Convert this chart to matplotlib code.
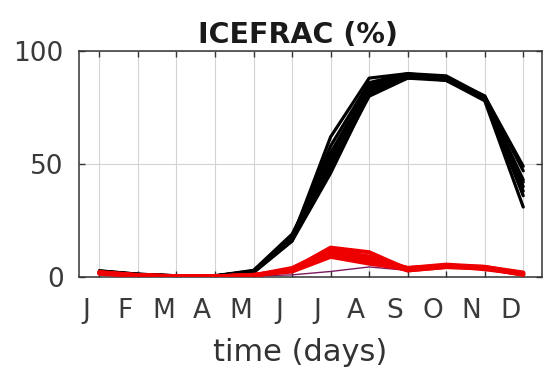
import matplotlib
matplotlib.use("Agg")
import matplotlib.pyplot as plt
from matplotlib.transforms import ScaledTranslation

months = list(range(1, 13))
month_labels = ["J", "F", "M", "A", "M", "J", "J", "A", "S", "O", "N", "D"]

# Ensemble members, one series per run (ice fraction, %)
black_runs = [
    [2.8, 1.3, 0.6, 0.6, 2.5, 17, 62, 88, 90, 88, 80, 49],
    [2.5, 1.2, 0.5, 0.5, 2.8, 18, 58, 86, 90, 89, 80, 47],
    [2.2, 1.0, 0.4, 0.5, 2.2, 16, 55, 84, 89, 88, 79, 43],
    [2.6, 1.1, 0.5, 0.6, 3.0, 19, 52, 82, 89, 87, 79, 40],
    [2.4, 1.2, 0.5, 0.4, 2.4, 17, 48, 80, 88, 88, 80, 38],
    [2.0, 0.9, 0.4, 0.5, 2.0, 16, 46, 81, 89, 88, 79, 36],
    [2.7, 1.3, 0.6, 0.5, 2.6, 18, 50, 83, 88, 87, 78, 31],
    [2.3, 1.1, 0.5, 0.5, 2.3, 17, 54, 85, 89, 88, 80, 42],
]
red_runs = [
    [2.0, 0.8, 0.3, 0.3, 0.7, 3.5, 13.0, 11.0, 3.5, 5.0, 4.5, 1.5],
    [1.8, 0.7, 0.3, 0.3, 0.8, 4.0, 12.0, 9.0, 4.0, 5.5, 4.5, 2.0],
    [2.2, 0.9, 0.4, 0.3, 1.0, 3.0, 11.0, 8.0, 3.0, 4.5, 4.0, 1.2],
    [1.5, 0.6, 0.2, 0.2, 0.6, 3.5, 10.0, 7.0, 4.0, 5.0, 3.5, 1.5],
    [2.0, 0.8, 0.3, 0.3, 0.9, 2.5, 9.0, 6.0, 3.5, 5.0, 4.0, 1.0],
    [1.7, 0.7, 0.3, 0.3, 0.7, 3.0, 11.5, 9.0, 3.0, 4.5, 4.0, 1.8],
]
thin_run = [1.5, 0.5, 0.2, 0.2, 0.5, 1.0, 2.5, 4.5, 3.0, 4.5, 3.5, 1.0]

plt.rcParams["font.family"] = ["DejaVu Sans"]

fig = plt.figure(figsize=(5.45, 3.75), dpi=100)
ax = fig.add_axes([0.145, 0.261, 0.849, 0.603])

for run in black_runs:
    ax.plot(months, run, color="black", lw=2.3, solid_capstyle="round", zorder=3)
ax.plot(months, thin_run, color="#7a1a60", lw=1.0, zorder=3)
for run in red_runs:
    ax.plot(months, run, color="#ee0000", lw=3.0, solid_capstyle="round", zorder=4)

ax.set_xlim(0.47, 12.48)
ax.set_ylim(0, 100)
ax.set_xticks(months)
ax.set_xticklabels(month_labels)
ax.set_yticks([0, 50, 100])

ax.grid(True, color="#d4d4d4", lw=0.8)
ax.set_axisbelow(True)
for s in ax.spines.values():
    s.set_color("#333333")
    s.set_linewidth(1.1)
ax.tick_params(direction="in", top=True, right=True, length=4, width=1,
               color="#333333", labelsize=19, labelcolor="#3a3a3a")
ax.tick_params(axis="x", pad=15)
ax.tick_params(axis="y", pad=11)

# month letters sit slightly left of their ticks
shift = ScaledTranslation(-13 / 100, 0, fig.dpi_scale_trans)
for lab in ax.get_xticklabels():
    lab.set_transform(lab.get_transform() + shift)

ax.set_xlabel("time (days)", fontsize=22, color="#333333", labelpad=10, x=0.478)
ax.set_title("ICEFRAC (%)", fontsize=20.5, fontweight="bold", color="#1a1a1a",
             pad=6, x=0.474)

fig.savefig("out.png", dpi=100)
